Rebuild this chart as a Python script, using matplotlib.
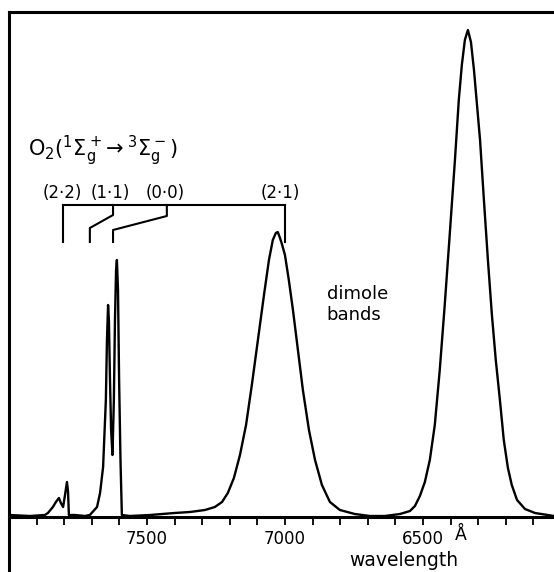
import matplotlib
matplotlib.use("Agg")
import matplotlib.pyplot as plt
from matplotlib.ticker import MultipleLocator

# ---- data (wavelength in Angstrom, relative intensity) ----
wavelength = [8000, 7924, 7870, 7859, 7841, 7830, 7819, 7812, 7804, 7797, 7790, 7786,
              7783, 7761, 7725, 7707, 7681, 7670, 7659, 7649, 7645, 7641, 7638, 7634,
              7630, 7625, 7620, 7616, 7612, 7609, 7605, 7601, 7596, 7591, 7562, 7489,
              7400, 7344, 7290, 7254, 7228, 7207, 7185, 7163, 7141, 7120, 7098, 7076,
              7058, 7044, 7033, 7026, 7018, 7011, 7000, 6986, 6971, 6953, 6935, 6913,
              6891, 6866, 6837, 6801, 6747, 6692, 6638, 6583, 6547, 6529, 6511, 6493,
              6475, 6457, 6439, 6421, 6403, 6384, 6370, 6359, 6348, 6337, 6326, 6315,
              6304, 6293, 6279, 6264, 6250, 6236, 6221, 6207, 6192, 6178, 6159, 6130,
              6094, 6025]
intensity = [2, 1, 2, 4, 10, 15, 19, 14, 10, 22, 35, 25,
             2, 2, 1, 2, 10, 24, 50, 117, 177, 212, 197, 137,
             87, 62, 117, 197, 247, 257, 227, 137, 57, 2, 1, 2,
             4, 5, 7, 10, 15, 24, 39, 62, 92, 132, 177, 222,
             257, 277, 284, 285, 279, 273, 262, 237, 207, 167, 127, 87,
             57, 32, 15, 7, 3, 1, 1, 3, 6, 11, 21, 35,
             57, 92, 147, 212, 282, 357, 417, 452, 477, 487, 475, 447,
             412, 377, 317, 255, 202, 157, 117, 77, 49, 32, 17, 8,
             4, 1]

major_ticks = [7500, 7000, 6500]
tick_labels = ["7500", "7000", "6500"]

band_labels = ["(2·2)", "(1·1)", "(0·0)", "(2·1)"]
band_label_pos = [7808, 7634, 7435, 7018]

fig = plt.figure(figsize=(5.54, 5.72), dpi=100)
ax = fig.add_axes([9/554, 0.0, 545/554, 560/572])

ax.plot(wavelength, intensity, color="black", lw=1.7, solid_joinstyle="round")

ax.set_xlim(8000, 6025)
ax.set_ylim(-55, 505)

for s in ["top", "left", "bottom"]:
    ax.spines[s].set_linewidth(2.2)
ax.spines["right"].set_visible(False)
ax.spines["bottom"].set_position(("data", 0))

ax.set_xticks(major_ticks)
ax.set_xticklabels(tick_labels)
ax.xaxis.set_minor_locator(MultipleLocator(100))
ax.tick_params(axis="x", which="major", direction="out", length=6, width=1.3,
               labelsize=12, pad=3.5)
ax.tick_params(axis="x", which="minor", direction="out", length=5.5, width=1.3)
ax.set_yticks([])
ax.tick_params(axis="x", top=False)

# unit and axis label
ax.text(6362, -9, "Å", ha="center", va="top", fontsize=12.5)
ax.text(6569, -44, "wavelength", ha="center", va="center", fontsize=13.5)

# title formula
ax.text(7931, 361, r"$\mathrm{O_2(^1\Sigma_g^+\!\rightarrow{}^3\Sigma_g^-)}$",
        ha="left", va="baseline", fontsize=15)

# band bracket
lw = 1.5
ax.plot([7804, 7000], [312, 312], color="black", lw=lw)
ax.plot([7804, 7804], [312, 275], color="black", lw=lw)
ax.plot([7000, 7000], [312, 275], color="black", lw=lw)
ax.plot([7623, 7623, 7707, 7707], [312, 302, 289, 275], color="black", lw=lw)
ax.plot([7428, 7428, 7623, 7623], [312, 301, 287, 275], color="black", lw=lw)
for lab, pos in zip(band_labels, band_label_pos):
    ax.text(pos, 324, lab, ha="center", va="center", fontsize=12)

ax.text(6848, 223, "dimole", ha="left", va="center", fontsize=13)
ax.text(6851, 202, "bands", ha="left", va="center", fontsize=13)

fig.savefig("out.png")
